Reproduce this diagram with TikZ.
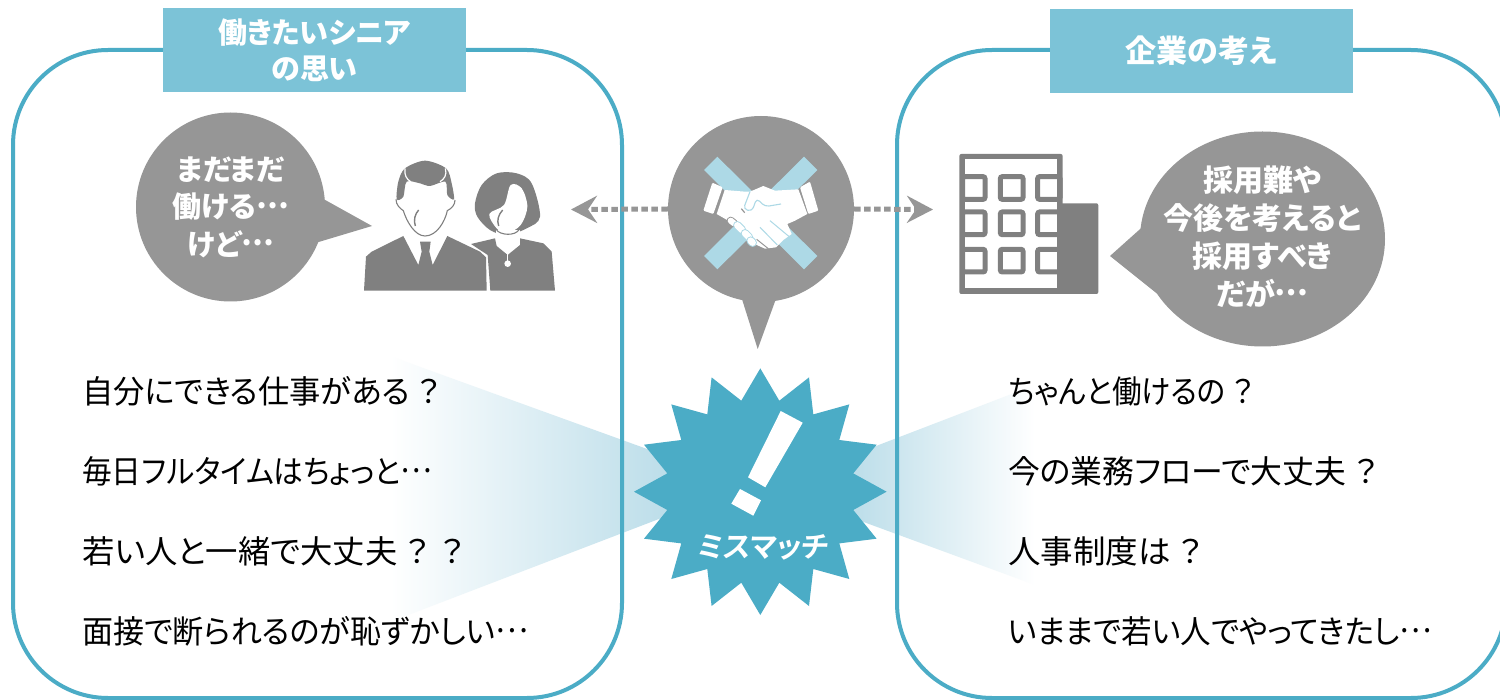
\documentclass[tikz,border=0pt]{standalone}
\usepackage{fontspec}
\setmainfont[RawFeature=+palt]{Noto Sans CJK JP}
\newfontfamily\slantjp[FakeSlant=0.12,RawFeature=+palt]{Noto Sans CJK JP Bold}
\usetikzlibrary{arrows.meta,shapes.geometric,fadings,shadings}
\definecolor{panelc}{HTML}{4BACC6}
\definecolor{headc}{HTML}{7CC3D7}
\definecolor{bubc}{HTML}{969696}
\definecolor{iconc}{HTML}{808080}
\definecolor{xc}{HTML}{ADD9E6}
\definecolor{fanc}{HTML}{BBDDE9}
\newcommand{\tdots}{\raisebox{.33em}{…}}
\newcommand{\fitw}[2]{\resizebox{#1pt}{\height}{#2}}
\tikzset{
  panel/.style={draw=panelc,line width=4pt,rounded corners=95pt},
  head/.style={fill=headc,text=white,font=\fontsize{29}{36}\selectfont\bfseries,align=center,inner sep=0pt,minimum height=84pt,minimum width=303pt},
  bubtext/.style={text=white,inner sep=0pt,align=center,font=\fontsize{29}{37.5}\selectfont\bfseries},
  item/.style={anchor=west,inner sep=0pt,font=\fontsize{32}{36}\selectfont,text=black},
  dots/.style={draw=bubc,line width=5pt,dash pattern=on 6.5pt off 3.5pt,-{Stealth[length=26pt,width=27pt,inset=9pt]}},
  win/.style={draw=iconc,line width=5pt,rounded corners=2pt},
  hx/.style={fill=xc}
}
\begin{document}
\begin{tikzpicture}[x=1pt,y=-1pt]
\path[use as bounding box,clip] (0,0) rectangle (1500,700);
\fill[white] (0,0) rectangle (1500,700);
% fans
\shade[left color=white,right color=fanc] (390,356) -- (672,458) -- (672,514) -- (390,622) -- cycle;
\shade[left color=fanc,right color=white] (850,456) -- (1035,385) -- (1035,585) -- (850,517) -- cycle;
% panels
\draw[panel] (13,50) rectangle (622,698);
\draw[panel] (897,50) rectangle (1506,698);
% headers
\node[head] (h1) at (314.5,50) {働きたいシニア\\の思い};
\node[head,font=\fontsize{31}{36}\selectfont\bfseries] (h2) at (1201.5,51) {企業の考え};
% left bubble
\fill[bubc] (318,196) -- (372,226) -- (312,244) -- cycle;
\node[fill=bubc,circle,minimum size=189pt,inner sep=0pt] (b1) at (230.5,207) {};
\node[bubtext] (b1t) at (b1.center) {まだまだ\\働ける\tdots\\けど\tdots};
% right bubble
\fill[bubc] (1148,222) -- (1110,256) -- (1160,296) -- cycle;
\fill[bubc] (1262.5,239) ellipse[x radius=122.5pt,y radius=107.5pt];
\node[bubtext,font=\fontsize{30}{38}\selectfont\bfseries] (b2t) at (1262.5,237) {採用難や\\今後を考えると\\採用すべき\\だが\tdots};
% middle bubble
\coordinate (ltip) at (571,209.5);
\coordinate (rtip) at (933,209.5);
\node[fill=bubc,circle,minimum size=186pt,inner sep=0pt] (mid) at (761,209) {};
\draw[dots] (mid.west) -- (ltip);
\draw[dots] (mid.east) -- (rtip);
\fill[bubc] (741,296) -- (777,296) -- (757.7,349) -- cycle;
% handshake, zoom coordinates
\begin{scope}[shift={(700,150)},x=0.33333pt,y=-0.33333pt]
\fill[hx] (52,20) -- (352,318) -- (312,358) -- (12,60) -- cycle;
\fill[hx] (312,20) -- (352,60) -- (52,358) -- (12,318) -- cycle;
% cuffs
\fill[white,rounded corners=1pt] (37,98) -- (68,112) -- (40,192) -- (10,182) -- cycle;
\fill[white,rounded corners=1pt] (300,112) -- (330,95) -- (355,182) -- (325,192) -- cycle;
% hands
\fill[white] (74,120) -- (135,125) -- (150,125) -- (190,108) -- (225,122) -- (295,118) -- (322,192) -- (285,212) -- (262,222)
  -- (275,252) -- (250,270) -- (228,292) -- (195,296) -- (170,285) -- (85,212) -- (50,192) -- cycle;
% thumb line
\draw[xc,line width=1.1pt,rounded corners=4pt] (150,125) -- (130,177) -- (156,184) -- (170,145) -- (195,170) -- (243,162);
\draw[bubc,line width=1.2pt] (124,176) -- (134,188);
\draw[xc,line width=1pt] (210,212) -- (270,262);
\draw[xc,line width=1pt] (180,232) -- (232,285);
\draw[bubc,line width=1pt] (170,268) -- (205,296);
% fingers
\draw[bubc,line width=8pt,line cap=round] (92,212) -- ++(10,8);
\draw[white,line width=6pt,line cap=round] (92,212) -- ++(10,8);
\foreach \a/\b/\len in {112/226/14,135/250/12,152/272/6}{
  \draw[xc,line width=8.5pt,line cap=round] (\a,\b) -- ++(\len,\len);
  \draw[white,line width=6.5pt,line cap=round] (\a,\b) -- ++(\len,\len);
}
\end{scope}
% star
\begin{scope}[shift={(760.3,491.7)}]
\fill[panelc] (0,-123.3) -- (19,-91) -- (48.7,-114.3) -- (53,-77.3) -- (89,-87.3) -- (79,-51.7) -- (116.3,-47) -- (93,-18.3)
 -- (126.3,0) -- (93,18.3) -- (116.3,47) -- (79,51.7) -- (89,87.3) -- (53,77.3) -- (48.7,114.3) -- (19,91)
 -- (0,123.3) -- (-19,91) -- (-48.7,114.3) -- (-53,77.3) -- (-89,87.3) -- (-79,51.7) -- (-116.3,47) -- (-93,18.3)
 -- (-126.3,0) -- (-93,-18.3) -- (-116.3,-47) -- (-79,-51.7) -- (-89,-87.3) -- (-53,-77.3) -- (-48.7,-114.3) -- (-19,-91) -- cycle;
\end{scope}
\fill[white] (780.7,411) -- (802.7,422.7) -- (765.3,487.3) -- (748,477.3) -- cycle;
\fill[white] (740,489) -- (761,500.3) -- (753.3,515.7) -- (731.3,503.7) -- cycle;
\node[inner sep=0pt,text=white,font=\fontsize{29}{30}\slantjp] (mm) at (762,547) {ミスマッチ};
% people, zoom coordinates
\begin{scope}[shift={(340,140)},x=0.33333pt,y=-0.33333pt]
\fill[iconc] (72,452) -- (78,350) -- (95,335) -- (190,288) -- (235,375) -- (245,335) -- (240,305) -- (272,305) -- (268,335) -- (278,375) -- (322,288) -- (420,335) -- (438,352) -- (440,452) -- cycle;
\fill[iconc] plot[smooth cycle,tension=0.5] coordinates {(195,85) (255,62) (318,85) (335,130) (342,178) (322,165) (316,125) (270,138) (240,130) (200,125) (190,170) (170,178) (175,125)};
\draw[white,line width=1.2pt] (195,85) .. controls (192,105) and (200,118) .. (212,125);
\draw[white,line width=1.2pt] (316,85) .. controls (322,105) and (312,118) .. (300,125);
\draw[iconc,line width=1.1pt] (168,178) .. controls (168,195) and (180,205) .. (190,212) .. controls (200,245) and (225,288) .. (255,288) .. controls (290,288) and (315,245) .. (322,212) .. controls (335,205) and (345,195) .. (345,180);
\draw[iconc,line width=1.4pt] (236,210) .. controls (225,222) and (220,240) .. (226,258);
% woman
\fill[iconc] plot[smooth cycle,tension=0.55] coordinates {(470,100) (530,100) (575,130) (600,230) (560,265) (500,285) (450,270) (412,230) (405,190) (425,135)};
\fill[white] plot[smooth cycle,tension=0.55] coordinates {(512,135) (545,145) (562,200) (542,255) (500,280) (470,265) (448,222) (492,195)};
\draw[iconc,line width=1.4pt] (488,210) .. controls (475,225) and (470,240) .. (476,258);
\fill[white] (468,270) rectangle (540,300);
\draw[iconc,line width=1.1pt] (470,270) .. controls (480,285) and (525,290) .. (538,268);
\fill[iconc] (393,312) -- (465,295) -- (470,318) -- (503,345) -- (540,315) -- (540,295) -- (610,310) -- (635,335) -- (645,452) -- (451,452) -- (443,345) -- cycle;
\draw[white,line width=1pt] (503,338) -- (503,368);
\fill[white] (503,371) circle[radius=3.3pt];
\end{scope}
% building, zoom coordinates
\begin{scope}[shift={(940,140)},x=0.33333pt,y=-0.33333pt]
\fill[iconc,rounded corners=2pt] (340,190) rectangle (475,462);
\fill[iconc,rounded corners=2pt] (58,42) rectangle (368,462);
\fill[white] (75,58) rectangle (352,445);
\foreach \yy in {110,216,328}{
  \draw[win] (68,\yy) rectangle ++(67,68);
  \draw[win] (181,\yy) rectangle ++(68,68);
  \draw[win] (293,\yy) rectangle ++(67,68);
}
\end{scope}
% lists
\node[item] (l1) at (82,391) {\fitw{358}{自分にできる仕事がある\hspace{8pt}？}};
\node[item] (l2) at (82,471) {\fitw{350}{毎日フルタイムはちょっと\tdots}};
\node[item] (l3) at (82,551) {\fitw{382}{若い人と一緒で大丈夫\hspace{8pt}？\hspace{12pt}？}};
\node[item] (l4) at (82,631) {\fitw{446}{面接で断られるのが恥ずかしい\tdots}};
\node[item] (r1) at (1008,391) {\fitw{246}{ちゃんと働けるの\hspace{8pt}？}};
\node[item] (r2) at (1008,471) {\fitw{369}{今の業務フローで大丈夫\hspace{8pt}？}};
\node[item] (r3) at (1008,551) {\fitw{194}{人事制度は\hspace{8pt}？}};
\node[item] (r4) at (1008,631) {\fitw{424}{いままで若い人でやってきたし\tdots}};
\end{tikzpicture}
\end{document}
